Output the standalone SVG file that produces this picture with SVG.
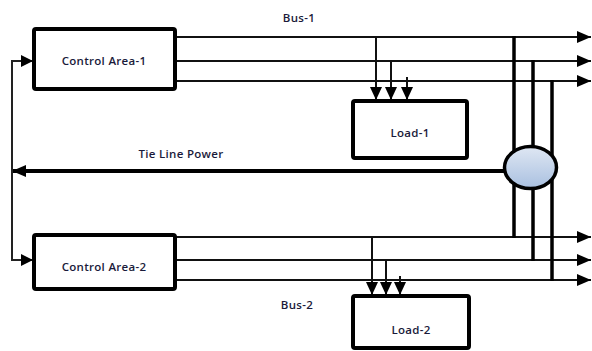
<svg xmlns="http://www.w3.org/2000/svg" width="592" height="351" viewBox="0 0 592 351">
<defs>
<linearGradient id="g" x1="0" y1="0" x2="0" y2="1">
<stop offset="0" stop-color="#dfe7f3"/>
<stop offset="1" stop-color="#a9c0e0"/>
</linearGradient>
<marker id="ah" markerWidth="14" markerHeight="12" refX="14" refY="6" orient="auto" markerUnits="userSpaceOnUse">
<path d="M0,0 L14,6 L0,12 Z" fill="#000"/>
</marker>
<marker id="ahs" markerWidth="12" markerHeight="13" refX="13" refY="6" orient="auto" markerUnits="userSpaceOnUse">
<path d="M0,0 L13,6 L0,12 Z" fill="#000"/>
</marker>
</defs>
<style>
.box{fill:#fff;stroke:#000;stroke-width:4}
.t{font-family:"Open Sans","Liberation Sans",Arial,sans-serif;font-size:11.5px;font-weight:600;letter-spacing:0.3px;fill:#1a1a3a;text-anchor:middle}
.bus{stroke:#111;stroke-width:2;fill:none}
.v{stroke:#000;stroke-width:3.5;fill:none}
.fb{stroke:#222;stroke-width:2;fill:none}
</style>
<rect width="592" height="351" fill="#fff"/>
<g id="connectors">
<line class="bus" x1="175" y1="37" x2="591" y2="37" marker-end="url(#ah)"/>
<line class="bus" x1="175" y1="61" x2="591" y2="61" marker-end="url(#ah)"/>
<line class="bus" x1="175" y1="81" x2="591" y2="81" marker-end="url(#ah)" stroke="#444"/>
<line class="bus" x1="175" y1="237" x2="591" y2="237" marker-end="url(#ah)"/>
<line class="bus" x1="175" y1="260" x2="591" y2="260" marker-end="url(#ah)" stroke="#444"/>
<line class="bus" x1="175" y1="280" x2="591" y2="280" marker-end="url(#ah)"/>
<line class="bus" x1="376" y1="37" x2="376" y2="100" marker-end="url(#ahs)"/>
<line class="bus" x1="391" y1="61" x2="391" y2="100" marker-end="url(#ahs)"/>
<line class="bus" x1="407" y1="77" x2="407" y2="100" marker-end="url(#ahs)"/>
<line class="bus" x1="372" y1="237" x2="372" y2="295" marker-end="url(#ahs)" stroke="#444"/>
<line class="bus" x1="386" y1="260" x2="386" y2="295" marker-end="url(#ahs)" stroke="#444"/>
<line class="bus" x1="400" y1="276" x2="400" y2="295" marker-end="url(#ahs)"/>
<line class="v" x1="514" y1="36" x2="514" y2="238"/>
<line class="v" x1="533" y1="60" x2="533" y2="261"/>
<line class="v" x1="552" y1="80" x2="552" y2="281"/>
<line x1="505" y1="171" x2="12" y2="171" stroke="#000" stroke-width="4" marker-end="url(#ah)"/>
<polyline class="fb" points="32,61 12,61 12,260 32,260"/>
<path d="M21,55 L33,61 L21,67 Z" fill="#000"/>
<path d="M21,254 L33,260 L21,266 Z" fill="#000"/>
</g>
<g id="tie-node">
<ellipse cx="530.5" cy="167.5" rx="26" ry="21" fill="url(#g)" stroke="#000" stroke-width="3.5"/>
</g>
<g id="control-area-1">
<rect class="box" x="34" y="29" width="141" height="60" rx="2"/>
<text class="t" x="104" y="65">Control Area-1</text>
</g>
<g id="control-area-2">
<rect class="box" x="34" y="235" width="141" height="54" rx="2"/>
<text class="t" x="104" y="271">Control Area-2</text>
</g>
<g id="load-1">
<rect class="box" x="353" y="101" width="114" height="57" rx="2"/>
<text class="t" x="410" y="137">Load-1</text>
</g>
<g id="load-2">
<rect class="box" x="353" y="296" width="116" height="52" rx="2"/>
<text class="t" x="411" y="334">Load-2</text>
</g>
<g id="labels">
<text class="t" x="299" y="22">Bus-1</text>
<text class="t" x="181" y="158">Tie Line Power</text>
<text class="t" x="297" y="309">Bus-2</text>
</g>
</svg>
